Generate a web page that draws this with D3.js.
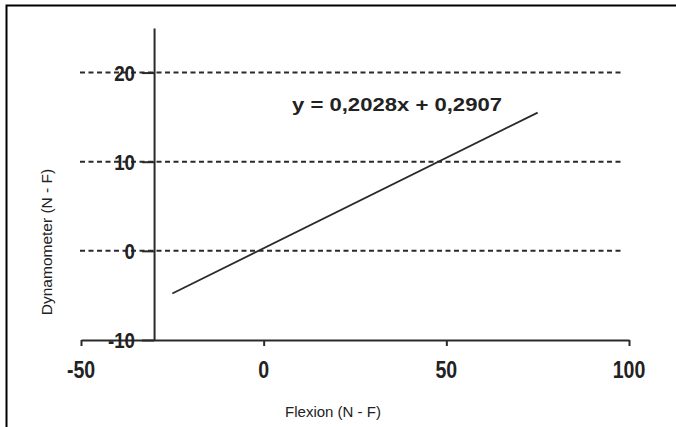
<!DOCTYPE html>
<html>
<head>
<meta charset="utf-8">
<script src="https://cdn.jsdelivr.net/npm/d3@7"></script>
<style>
  body { margin: 0; background: #fff; }
  svg { display: block; }
</style>
</head>
<body>
<svg width="676" height="427"></svg>
<script>
var width = 676,
    height = 427;

// data
var xTicks = [-50, 0, 50, 100];
var yTicks = [-10, 0, 10, 20];
var gridValues = [0, 10, 20];
var slope = 0.2028,
    intercept = 0.2907;
var lineX = [-25, 75];
var equationText = "y = 0,2028x + 0,2907";

var svg = d3.select("svg");

// frame
svg.append("path")
    .attr("d", "M6.5," + height + "V5.5H" + width)
    .style("fill", "none")
    .style("stroke", "#000")
    .style("stroke-width", 2);

var x = d3.scaleLinear().domain([-50, 100]).range([81, 629]);
var y = d3.scaleLinear().domain([-10, 25]).range([340, 28]);

var ink = "#2a2a2a";

// dashed grid lines
svg.append("g")
    .selectAll("line")
    .data(gridValues)
    .enter().append("line")
    .attr("x1", 80)
    .attr("x2", 623)
    .attr("y1", function (d) { return y(d); })
    .attr("y2", function (d) { return y(d); })
    .style("stroke", ink)
    .style("stroke-width", 2)
    .style("stroke-dasharray", "5,3.5");

// x axis
var xAxis = svg.append("g")
    .attr("transform", "translate(0," + y(-10) + ")")
    .call(d3.axisBottom(x).tickValues(xTicks).tickSize(6).tickSizeOuter(0).tickFormat(d3.format("d")));
xAxis.select(".domain").style("stroke", ink).style("stroke-width", 2);
xAxis.selectAll(".tick line").style("stroke", ink).style("stroke-width", 2);
xAxis.selectAll(".tick text").remove();

// y axis (crosses at x = -30)
var yAxis = svg.append("g")
    .attr("transform", "translate(" + x(-30) + ",0)")
    .call(d3.axisLeft(y).tickValues(yTicks).tickSize(12).tickSizeOuter(0));
yAxis.select(".domain").style("stroke", ink).style("stroke-width", 2);
yAxis.selectAll(".tick line").style("stroke", ink).style("stroke-width", 2);
yAxis.selectAll(".tick text").remove();

// bold squeezed tick labels
var labelFont = "'Liberation Sans', Arial, sans-serif";

svg.append("g")
    .selectAll("text")
    .data(xTicks)
    .enter().append("text")
    .attr("transform", function (d) { return "translate(" + x(d) + ",378) scale(0.85,1)"; })
    .attr("text-anchor", "middle")
    .style("font-family", labelFont)
    .style("font-weight", "bold")
    .style("font-size", "23px")
    .style("fill", "#222")
    .text(function (d) { return d; });

svg.append("g")
    .selectAll("text")
    .data(yTicks)
    .enter().append("text")
    .attr("transform", function (d) { return "translate(135," + (y(d) + 8) + ") scale(0.85,1)"; })
    .attr("text-anchor", "end")
    .style("font-family", labelFont)
    .style("font-weight", "bold")
    .style("font-size", "22px")
    .style("fill", "#222")
    .text(function (d) { return d; });

// fitted line
svg.append("line")
    .attr("x1", x(lineX[0]))
    .attr("y1", y(slope * lineX[0] + intercept))
    .attr("x2", x(lineX[1]))
    .attr("y2", y(slope * lineX[1] + intercept))
    .style("stroke", ink)
    .style("stroke-width", 1.8);

// equation
svg.append("text")
    .attr("x", 292)
    .attr("y", 111)
    .attr("textLength", 210)
    .attr("lengthAdjust", "spacingAndGlyphs")
    .style("font-family", labelFont)
    .style("font-weight", "bold")
    .style("font-size", "19px")
    .style("fill", "#222")
    .text(equationText);

// axis titles
svg.append("text")
    .attr("x", 333)
    .attr("y", 417)
    .attr("text-anchor", "middle")
    .style("font-family", labelFont)
    .style("font-size", "15px")
    .style("fill", "#222")
    .text("Flexion (N - F)");

svg.append("text")
    .attr("transform", "translate(52,242) rotate(-90)")
    .attr("text-anchor", "middle")
    .style("font-family", labelFont)
    .style("font-size", "15.5px")
    .style("fill", "#222")
    .text("Dynamometer (N - F)");
</script>
</body>
</html>
